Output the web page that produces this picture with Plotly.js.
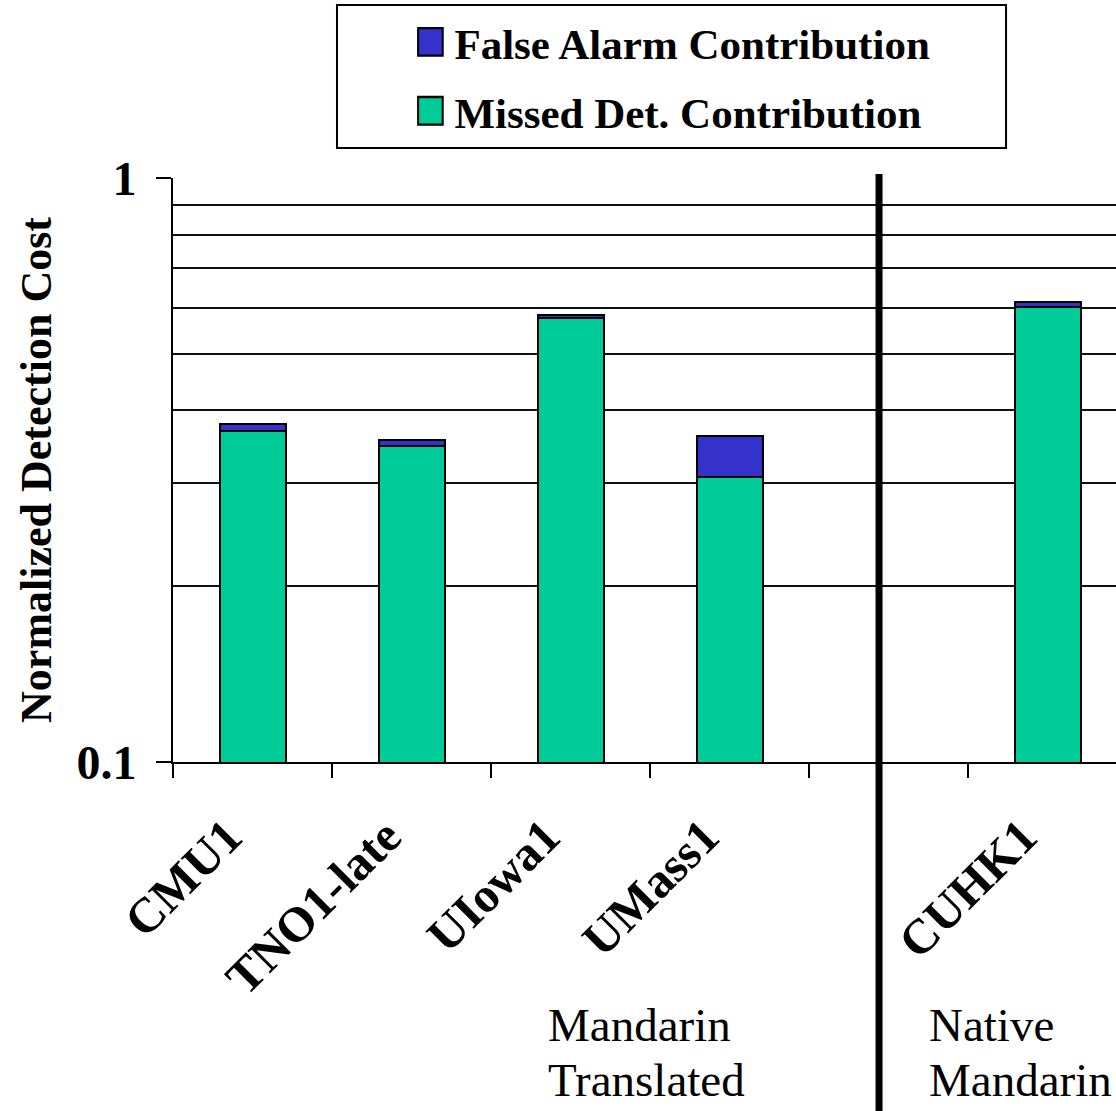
<!DOCTYPE html>
<html>
<head>
<meta charset="utf-8">
<script src="https://cdn.plot.ly/plotly-3.0.1.min.js"></script>
<style>
  html, body { margin: 0; padding: 0; background: #ffffff; }
  #chart { width: 1116px; height: 1111px; }
</style>
</head>
<body>
<div id="chart"></div>
<script>
// Systems evaluated (the blank slot separates the two groups)
const categories = ['CMU1', 'TNO1-late', 'UIowa1', 'UMass1', ' ', 'CUHK1'];

// Normalized detection cost split into its two contributions
const missedDet = [0.369, 0.347, 0.576, 0.308, null, 0.602];
const falseAlarm = [0.010, 0.009, 0.007, 0.054, null, 0.012];

// Y axis labels and the horizontal rules in between
const yTickVals = [0.1, 1];
const yTickText = ['0.1', '1'];
const yGridVals = [0.2, 0.3, 0.4, 0.5, 0.6, 0.7, 0.8, 0.9];

// Group captions under the axis, one entry per line
const groupLines = [['Mandarin', 'Translated'], ['Native', 'Mandarin']];

const serif = 'Liberation Serif, Times New Roman, serif';

const traces = [
  {
    type: 'bar',
    name: 'Missed Det. Contribution',
    x: categories,
    y: missedDet,
    width: 0.415,
    marker: { color: '#00CC99', line: { color: '#000000', width: 2 } },
    legendgroup: 'md',
    legendrank: 2
  },
  {
    type: 'bar',
    name: 'False Alarm Contribution',
    x: categories,
    y: falseAlarm,
    width: 0.415,
    marker: { color: '#3333CC', line: { color: '#000000', width: 2 } },
    legendgroup: 'fa',
    legendrank: 1
  }
];

// caption positions (paper units): left edge per group, centre per line
const captionX = [0.3955, 0.800];
const captionY = [-0.4503, -0.5445];
const annotations = [];
groupLines.forEach(function (lines, g) {
  lines.forEach(function (line, i) {
    annotations.push({
      xref: 'paper', yref: 'paper', x: captionX[g], y: captionY[i],
      xanchor: 'left', yanchor: 'middle', align: 'left', showarrow: false,
      text: line,
      font: { family: serif, size: 47, color: '#000000' }
    });
  });
});

const layout = {
  width: 1116,
  height: 1111,
  margin: { l: 173, r: 0, t: 178, b: 349, pad: 0 },
  paper_bgcolor: '#ffffff',
  plot_bgcolor: '#ffffff',
  barmode: 'stack',
  font: { family: serif, color: '#000000' },
  showlegend: true,
  legend: {
    x: 0.256, y: 1.292, xanchor: 'left', yanchor: 'top',
    bgcolor: 'rgba(0,0,0,0)', borderwidth: 0,
    traceorder: 'grouped', tracegroupgap: 10,
    font: { family: serif, size: 43, weight: 'bold', color: '#000000' }
  },
  xaxis: {
    type: 'category',
    categoryorder: 'array',
    categoryarray: categories,
    range: [-0.5, 5.43],
    tickson: 'boundaries',
    ticks: 'outside', ticklen: 14, tickwidth: 2, tickcolor: '#000000',
    showline: true, linecolor: '#000000', linewidth: 2,
    showgrid: false, zeroline: false,
    tickangle: -45,
    ticklabelstandoff: 24,
    ticklabelshift: -25,
    tickfont: { family: serif, size: 49, weight: 'bold', color: '#000000' },
    fixedrange: true
  },
  yaxis: {
    type: 'log',
    range: [-1, 0],
    tickmode: 'array',
    tickvals: yTickVals,
    ticktext: yTickText,
    ticks: 'outside', ticklen: 15, tickwidth: 2, tickcolor: '#000000',
    showline: true, linecolor: '#000000', linewidth: 2,
    showgrid: true, gridcolor: '#111111', gridwidth: 2,
    zeroline: false,
    minor: {
      tickmode: 'array', tickvals: yGridVals,
      ticks: '', showgrid: true, gridcolor: '#111111', gridwidth: 2
    },
    ticklabelstandoff: 10,
    tickfont: { family: serif, size: 48, weight: 'bold', color: '#000000' },
    title: {
      text: 'Normalized Detection Cost',
      standoff: 11,
      font: { family: serif, size: 44, weight: 'bold', color: '#000000' }
    },
    fixedrange: true
  },
  shapes: [
    // frame around the legend
    {
      type: 'rect', xref: 'paper', yref: 'paper',
      x0: 0.1739, x1: 0.8834, y0: 1.0514, y1: 1.2962,
      line: { color: '#000000', width: 2 }, fillcolor: 'rgba(0,0,0,0)'
    },
    // divider between the translated and native groups
    {
      type: 'line', xref: 'paper', yref: 'paper',
      x0: 0.7487, x1: 0.7487, y0: -0.62, y1: 1.007,
      line: { color: '#000000', width: 7 }, layer: 'above'
    }
  ],
  annotations: annotations
};

Plotly.newPlot('chart', traces, layout, { staticPlot: true, displayModeBar: false }).then(function () {
  // enlarge the legend swatches to a taller block
  document.querySelectorAll('#chart .legend .legendpoints path').forEach(function (p) {
    const t = p.getAttribute('transform') || '';
    p.setAttribute('transform', t + ' translate(-4,0) scale(2.05,2.3)');
    p.style.strokeWidth = '1px';
  });
});
</script>
</body>
</html>
